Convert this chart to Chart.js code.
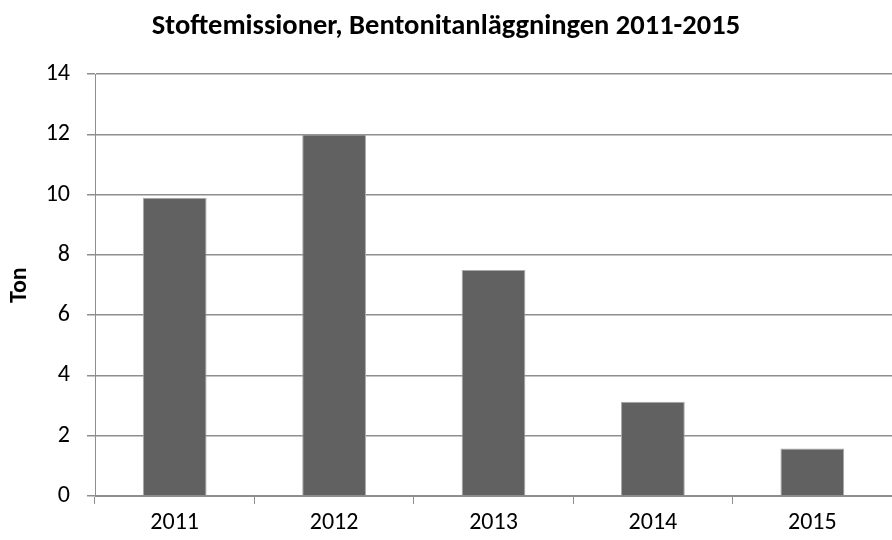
<!DOCTYPE html>
<html>
<head>
<meta charset="utf-8">
<script src="https://cdn.jsdelivr.net/npm/chart.js@4/dist/chart.umd.min.js"></script>
<style>
  html, body { margin: 0; padding: 0; background: #ffffff; }
  #wrap { width: 892px; height: 540px; }
</style>
</head>
<body>
<div id="wrap"><canvas id="chart" width="892" height="540"></canvas></div>
<script>
// Data
const years = ["2011", "2012", "2013", "2014", "2015"];
const dustTons = [9.9, 12.0, 7.5, 3.13, 1.58];
const yTicks = [0, 2, 4, 6, 8, 10, 12, 14];

const fontFamily = "Carlito, 'Open Sans', 'Liberation Sans', sans-serif";
const axisGray = "#8e8e8e";

const ctx = document.getElementById("chart").getContext("2d");

new Chart(ctx, {
  type: "bar",
  data: {
    labels: years,
    datasets: [
      {
        label: "Ton",
        data: dustTons,
        backgroundColor: "#616161",
        borderColor: "#a9a9a9",
        borderWidth: 1,
        barPercentage: 0.4,
        categoryPercentage: 1.0,
      },
    ],
  },
  options: {
    responsive: false,
    animation: false,
    layout: { padding: { left: 0, right: 0, top: 0, bottom: 0 } },
    plugins: {
      legend: { display: false },
      tooltip: { enabled: false },
      title: {
        display: true,
        text: "Stoftemissioner, Bentonitanläggningen 2011-2015",
        color: "#000000",
        font: { family: fontFamily, size: 28.5, weight: "bold" },
        padding: { top: 10, bottom: 30 },
      },
    },
    scales: {
      x: {
        grid: {
          offset: true,
          drawOnChartArea: false,
          drawTicks: true,
          tickLength: 8,
          color: axisGray,
        },
        border: { color: axisGray, width: 1 },
        ticks: {
          color: "#000000",
          padding: 5,
          font: { family: fontFamily, size: 24 },
        },
        afterFit: (scale) => { scale.height = 44; },
      },
      y: {
        min: 0,
        max: 14,
        afterBuildTicks: (scale) => {
          scale.ticks = yTicks.map((v) => ({ value: v }));
        },
        grid: {
          color: axisGray,
          lineWidth: 1.5,
          tickLength: 8,
        },
        border: { color: axisGray, width: 1 },
        ticks: {
          color: "#000000",
          padding: 17,
          font: { family: fontFamily, size: 24 },
        },
        title: {
          display: true,
          text: "Ton",
          color: "#000000",
          font: { family: fontFamily, size: 24, weight: "bold" },
          padding: { top: 6, bottom: 0 },
        },
        afterFit: (scale) => { scale.width = 95; },
      },
    },
  },
});
</script>
</body>
</html>
